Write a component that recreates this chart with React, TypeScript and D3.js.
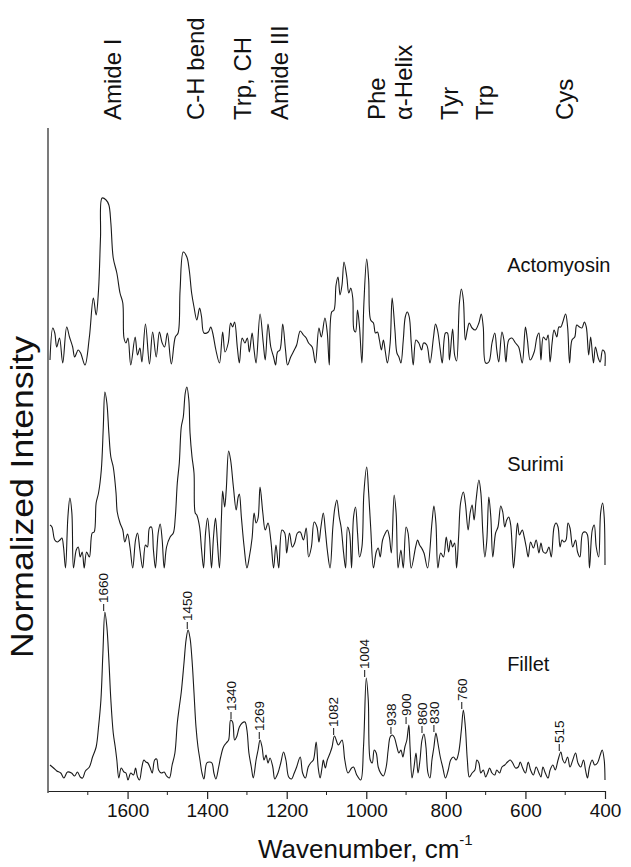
import React from "react";
import * as d3 from "d3";

const WIDTH = 631;
const HEIGHT = 867;

// Raman spectra: [wavenumber cm-1, intensity a.u.]
const fillet: [number, number][] = [
  [1795,16],[1786,13],[1778,10],[1768,8],[1760,3],[1751,9],[1741,8],[1733,5],[1726,9],[1719,4],[1713,3],[1706,10],[1696,14],[1688,24],[1679,34],[1673,54],[1667,81],[1662,128],[1657,169],[1652,154],[1647,121],[1642,81],[1636,48],[1631,34],[1627,21],[1622,3],[1616,13],[1609,9],[1604,8],[1599,1],[1592,8],[1585,6],[1580,13],[1575,4],[1570,1],[1564,14],[1559,21],[1554,19],[1549,18],[1543,13],[1538,8],[1532,21],[1527,22],[1522,11],[1515,8],[1508,9],[1502,5],[1495,3],[1488,16],[1481,28],[1475,58],[1470,74],[1465,89],[1458,119],[1453,141],[1448,151],[1443,143],[1438,121],[1433,88],[1428,54],[1423,34],[1418,21],[1413,8],[1408,2],[1401,18],[1394,19],[1388,18],[1383,8],[1378,2],[1371,14],[1366,24],[1359,34],[1352,38],[1346,41],[1341,61],[1336,59],[1331,41],[1326,44],[1319,54],[1312,58],[1305,59],[1300,51],[1295,28],[1289,14],[1284,3],[1277,21],[1272,31],[1267,41],[1262,34],[1257,21],[1252,26],[1247,18],[1242,23],[1235,14],[1230,2],[1222,8],[1215,18],[1208,29],[1202,21],[1195,4],[1188,2],[1181,8],[1175,14],[1166,24],[1160,8],[1153,3],[1146,14],[1140,18],[1133,21],[1126,39],[1121,14],[1116,3],[1111,14],[1108,21],[1103,13],[1098,21],[1091,28],[1086,34],[1080,45],[1070,36],[1061,41],[1054,21],[1046,8],[1037,13],[1032,14],[1024,6],[1014,1],[1007,34],[1000,103],[995,81],[990,21],[985,18],[980,31],[975,28],[970,14],[964,8],[957,5],[950,14],[945,31],[940,44],[935,46],[930,44],[923,34],[918,28],[913,31],[908,24],[903,34],[898,41],[893,56],[890,34],[885,3],[880,14],[875,28],[870,8],[865,21],[860,41],[855,47],[850,34],[845,8],[840,3],[835,21],[830,34],[825,48],[820,38],[814,24],[808,14],[801,3],[794,11],[788,21],[781,24],[774,21],[768,28],[761,51],[756,71],[751,54],[746,21],[741,4],[734,8],[727,11],[722,21],[717,18],[712,8],[706,11],[700,4],[695,8],[690,13],[684,8],[677,6],[672,11],[665,8],[659,14],[652,16],[645,19],[638,21],[632,18],[625,13],[618,14],[613,19],[607,13],[600,8],[593,19],[587,11],[580,6],[573,14],[566,8],[561,4],[556,14],[550,8],[543,3],[538,11],[531,16],[525,11],[518,21],[511,29],[506,21],[501,18],[494,24],[488,14],[481,21],[474,28],[468,18],[461,14],[454,21],[449,11],[444,3],[439,14],[432,21],[426,16],[419,18],[412,26],[407,31],[402,21],[400,1],
];

const surimi: [number, number][] = [
  [1795,45],[1790,43],[1783,30],[1776,28],[1770,30],[1765,32],[1761,23],[1756,2],[1750,53],[1745,72],[1740,57],[1736,2],[1729,20],[1724,23],[1719,13],[1714,18],[1709,2],[1703,18],[1696,13],[1689,37],[1684,38],[1679,67],[1673,77],[1666,100],[1661,143],[1657,178],[1652,167],[1647,137],[1642,113],[1636,103],[1629,77],[1626,58],[1619,47],[1612,40],[1607,28],[1600,36],[1594,23],[1587,2],[1580,30],[1575,37],[1569,20],[1562,2],[1555,25],[1550,23],[1545,42],[1540,43],[1535,20],[1530,2],[1523,37],[1518,46],[1513,30],[1508,2],[1502,23],[1493,33],[1485,37],[1480,53],[1475,87],[1470,107],[1465,143],[1460,153],[1455,177],[1451,183],[1446,170],[1443,137],[1438,113],[1433,97],[1430,57],[1426,55],[1419,43],[1414,20],[1409,2],[1404,37],[1399,52],[1394,33],[1389,2],[1384,33],[1379,52],[1374,27],[1369,2],[1364,53],[1361,79],[1356,63],[1352,80],[1346,119],[1341,110],[1334,83],[1327,60],[1322,73],[1319,76],[1314,53],[1307,23],[1300,2],[1294,13],[1287,32],[1282,57],[1277,47],[1272,52],[1267,83],[1260,57],[1254,40],[1247,47],[1240,30],[1233,2],[1227,25],[1220,2],[1212,40],[1205,37],[1200,17],[1193,37],[1186,23],[1180,27],[1173,37],[1166,38],[1158,30],[1151,42],[1145,13],[1138,23],[1131,48],[1124,43],[1119,28],[1114,43],[1108,57],[1103,40],[1098,20],[1091,2],[1084,43],[1079,62],[1074,70],[1068,53],[1063,42],[1057,17],[1052,2],[1047,43],[1042,37],[1037,2],[1032,53],[1027,63],[1022,37],[1017,13],[1011,23],[1006,77],[999,103],[994,77],[989,43],[982,2],[975,18],[970,22],[965,13],[959,30],[952,37],[947,40],[942,33],[937,17],[930,75],[925,57],[920,2],[913,20],[907,2],[900,43],[895,37],[887,2],[876,23],[871,30],[866,25],[861,22],[855,17],[846,2],[835,47],[830,64],[825,47],[820,2],[813,17],[806,13],[799,33],[793,18],[788,30],[783,23],[778,27],[773,2],[768,33],[763,67],[756,78],[751,67],[744,40],[739,57],[734,65],[729,50],[724,70],[717,90],[712,77],[707,37],[702,13],[697,30],[692,73],[687,53],[682,13],[675,37],[669,43],[662,64],[657,58],[652,43],[647,50],[642,53],[637,45],[630,2],[625,23],[620,47],[615,35],[608,40],[603,33],[598,23],[593,13],[587,28],[580,22],[573,30],[566,17],[561,27],[555,18],[548,17],[541,23],[535,13],[528,43],[523,47],[518,43],[513,23],[508,30],[503,28],[498,30],[493,47],[488,42],[481,23],[474,30],[469,18],[463,13],[456,37],[449,38],[444,35],[439,2],[432,40],[427,45],[422,23],[416,13],[411,57],[406,67],[402,53],[400,5],
];

const actomyosin: [number, number][] = [
  [1795,8],[1788,40],[1783,35],[1778,21],[1771,30],[1763,5],[1753,41],[1746,31],[1738,21],[1733,11],[1724,18],[1718,15],[1707,3],[1696,31],[1686,70],[1679,53],[1673,78],[1668,131],[1664,170],[1654,168],[1647,163],[1642,145],[1636,110],[1627,95],[1619,75],[1612,65],[1609,30],[1604,25],[1599,30],[1592,3],[1581,31],[1575,13],[1569,20],[1564,6],[1555,44],[1545,4],[1537,36],[1528,11],[1520,36],[1513,25],[1507,21],[1500,35],[1490,4],[1480,31],[1473,35],[1468,78],[1460,116],[1451,111],[1445,98],[1439,75],[1433,61],[1426,48],[1419,60],[1414,51],[1408,35],[1397,36],[1391,41],[1386,35],[1378,18],[1369,5],[1361,36],[1355,16],[1347,25],[1341,45],[1336,41],[1331,46],[1324,20],[1319,5],[1312,30],[1305,25],[1299,30],[1294,16],[1287,35],[1282,18],[1277,5],[1267,54],[1259,25],[1254,8],[1247,44],[1240,21],[1233,11],[1228,3],[1223,16],[1217,18],[1210,44],[1203,18],[1198,3],[1190,11],[1181,18],[1175,23],[1166,37],[1158,33],[1151,30],[1145,25],[1136,21],[1128,5],[1119,40],[1113,31],[1104,50],[1098,35],[1093,3],[1087,56],[1081,58],[1076,83],[1071,91],[1066,73],[1061,83],[1056,106],[1049,91],[1044,75],[1039,80],[1034,70],[1031,38],[1027,36],[1022,58],[1017,41],[1011,5],[1006,65],[999,109],[994,88],[989,48],[982,45],[977,35],[972,36],[967,28],[962,18],[957,28],[952,16],[947,5],[940,25],[935,70],[928,38],[923,15],[918,11],[913,5],[907,28],[902,51],[897,56],[892,51],[887,25],[882,3],[875,28],[868,25],[861,18],[856,25],[848,23],[840,5],[831,31],[826,44],[821,38],[814,18],[809,5],[801,35],[796,35],[791,8],[783,39],[778,13],[773,7],[766,65],[761,79],[756,68],[751,28],[746,38],[741,45],[734,40],[726,38],[717,45],[711,54],[706,41],[700,5],[692,6],[684,25],[677,35],[672,18],[667,6],[659,36],[654,28],[649,6],[642,28],[634,30],[625,25],[617,21],[608,5],[600,41],[595,28],[588,8],[578,16],[571,31],[566,35],[561,8],[555,31],[548,28],[543,33],[538,6],[533,25],[528,38],[521,31],[516,41],[511,41],[506,46],[499,54],[494,41],[489,5],[483,28],[476,31],[471,43],[464,41],[458,40],[452,46],[447,41],[441,13],[436,31],[429,5],[424,21],[417,10],[412,6],[406,18],[401,16],[400,2],
];

const seriesNames = ["Fillet", "Surimi", "Actomyosin"];
const seriesData = [fillet, surimi, actomyosin];
const seriesOffsets = [10, 221, 423]; // vertical stacking of the spectra
const seriesLabelLevel = [110, 99, 96];

const bandLabels = ["Amide I", "C-H bend", "Trp, CH", "Amide III", "Phe", "α-Helix", "Tyr", "Trp", "Cys"];
const bandPositions = [1637, 1428, 1310, 1217, 973, 905, 790, 702, 501];

const peakLabels = [1660, 1450, 1340, 1269, 1082, 1004, 938, 900, 860, 830, 760, 515];

const xTicks = [1600, 1400, 1200, 1000, 800, 600, 400];
const xMinorTicks = [1700, 1500, 1300, 1100, 900, 700, 500];

const FONT = "'Liberation Sans', Arial, Helvetica, sans-serif";

const App = () => {
  const x = d3.scaleLinear().domain([1800, 400]).range([48, 605]);
  const y = d3.scaleLinear().domain([0, 663]).range([791, 128]);

  const makeLine = (offset: number) =>
    d3.line<[number, number]>()
      .x((d) => x(d[0]))
      .y((d) => y(d[1] + offset))
      .curve(d3.curveCatmullRom.alpha(0.5));

  const peakHeight = (wn: number) => {
    const near = fillet.filter((d) => Math.abs(d[0] - wn) <= 8);
    return d3.max(near, (d) => d[1]) ?? 0;
  };

  return (
    <svg width={WIDTH} height={HEIGHT} style={{ position: "absolute", left: 0, top: 0, background: "#fff" }} fontFamily={FONT}>
      {/* spectra */}
      {seriesData.map((data, i) => (
        <path
          key={seriesNames[i]}
          d={makeLine(seriesOffsets[i])(data) ?? ""}
          fill="none"
          stroke="#1a1a1a"
          strokeWidth={1.1}
          strokeLinejoin="round"
        />
      ))}

      {/* series names */}
      {seriesNames.map((name, i) => (
        <text key={name} x={x(646)} y={y(seriesLabelLevel[i] + seriesOffsets[i])} fontSize={20} fill="#111">
          {name}
        </text>
      ))}

      {/* peak positions on the fillet spectrum */}
      {peakLabels.map((wn) => {
        const py = y(peakHeight(wn) + seriesOffsets[0]);
        return (
          <g key={wn}>
            <line x1={x(wn)} x2={x(wn)} y1={py - 1} y2={py - 8} stroke="#111" strokeWidth={1} />
            <text transform={`translate(${x(wn)},${py - 9}) rotate(-90)`} dy="0.35em" fontSize={13.5} fill="#111">
              {wn}
            </text>
          </g>
        );
      })}

      {/* band assignments along the top */}
      {bandLabels.map((label, i) => (
        <text key={i} transform={`translate(${x(bandPositions[i])},120) rotate(-90)`} dy="0.35em" fontSize={24} fill="#111">
          {label}
        </text>
      ))}

      {/* y axis line (no ticks) */}
      <line x1={48} x2={48} y1={128} y2={793} stroke="#222" strokeWidth={1.2} />

      {/* x axis */}
      <g
        transform="translate(0,791)"
        ref={(node) => {
          if (node) {
            const g = d3.select(node);
            g.call(
              d3.axisBottom(x).tickValues(xTicks).tickSize(8).tickSizeOuter(0).tickPadding(5).tickFormat(d3.format("d"))
            );
            g.selectAll("text").style("font-size", "19px").style("font-family", FONT).style("fill", "#111");
            g.selectAll("path,line").style("stroke", "#222").style("stroke-width", "1.2");
          }
        }}
      />
      {xMinorTicks.map((t) => (
        <line key={t} x1={x(t)} x2={x(t)} y1={791} y2={795} stroke="#222" strokeWidth={1} />
      ))}

      {/* axis titles */}
      <text x={258} y={858} fontSize={26} fill="#111">
        Wavenumber, cm
        <tspan fontSize={15} dy={-13}>-1</tspan>
      </text>
      <text
        transform="translate(22,497) rotate(-90)"
        textAnchor="middle"
        dy="0.35em"
        fontSize={31}
        textLength={322}
        lengthAdjust="spacingAndGlyphs"
        fill="#111"
      >
        Normalized Intensity
      </text>
    </svg>
  );
};

export default App;
